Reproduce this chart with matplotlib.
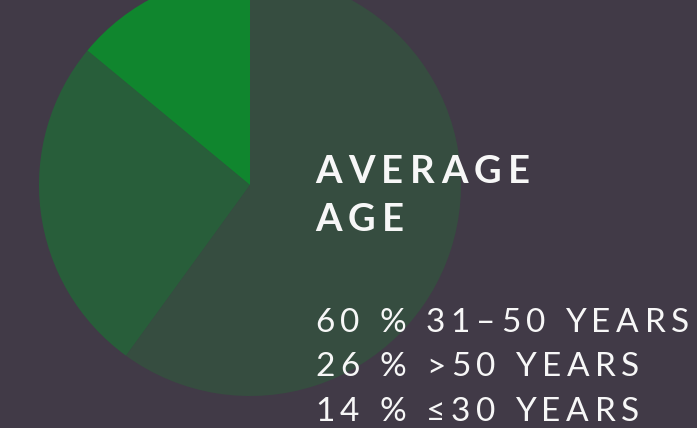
import matplotlib
matplotlib.use("Agg")
import matplotlib.pyplot as plt
from matplotlib.font_manager import FontProperties

W, H = 697, 428
BG = "#413a47"

SHARES = [60, 26, 14]
COLORS = ["#364d40", "#285e3a", "#10862e"]
TITLE = ["AVERAGE", "AGE"]
ROWS = ["60 % 31\u201350 YEARS", "26 % >50 YEARS", "14 % \u226430 YEARS"]

fig = plt.figure(figsize=(W / 100, H / 100), dpi=100, facecolor=BG)
ax = fig.add_axes([0, 0, 1, 1])
ax.set_facecolor(BG)

ax.pie(SHARES, colors=COLORS, startangle=90, counterclock=False,
       center=(250, H - 185), radius=211, wedgeprops=dict(linewidth=0))
ax.set_aspect("auto")
ax.set_xlim(0, W)
ax.set_ylim(0, H)
ax.axis("off")

renderer = fig.canvas.get_renderer()


def spaced(x, y, s, size, weight, track):
    # matplotlib has no letter-spacing, so place glyphs one by one
    fp = FontProperties(family=["Lato", "DejaVu Sans"], size=size, weight=weight)
    w0 = renderer.get_text_width_height_descent("II", fp, ismath=False)[0]
    for ch in s:
        ax.text(x, y, ch, fontproperties=fp, color="#f7f7f7",
                ha="left", va="baseline")
        adv = renderer.get_text_width_height_descent("I" + ch + "I", fp, ismath=False)[0] - w0
        x += adv + track * size * 100 / 72


for i, line in enumerate(TITLE):
    spaced(315, H - 183 - i * 48, line, 27.5, "bold", 0.17)

for i, line in enumerate(ROWS):
    spaced(315, H - 332 - i * 44.5, line, 24, "normal", 0.17)

fig.savefig("out.png", dpi=100, facecolor=BG)
